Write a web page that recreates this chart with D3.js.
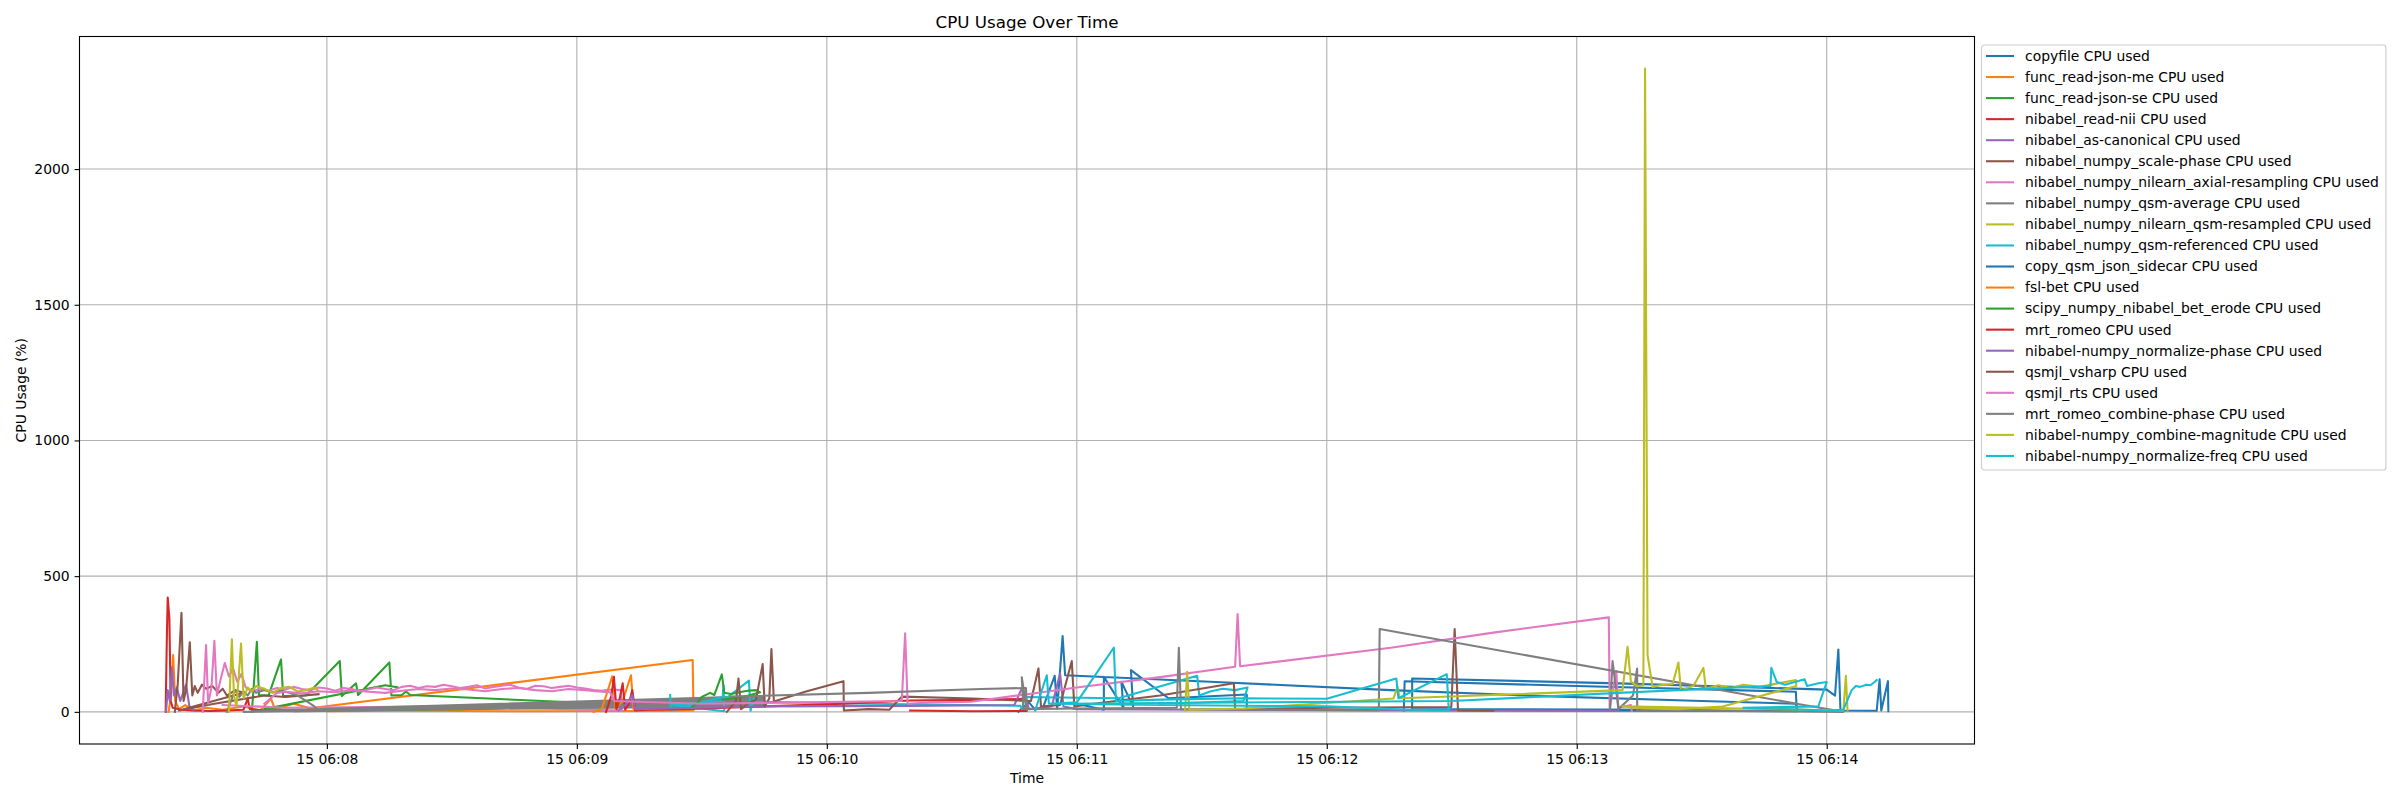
<!DOCTYPE html>
<html>
<head>
<meta charset="utf-8">
<script src="https://cdn.jsdelivr.net/npm/d3@7"></script>
<style>
  body { margin: 0; background: #fff; }
  text { font-family: "DejaVu Sans", sans-serif; fill: #000; }
</style>
</head>
<body>
<div id="chart"></div>
<script>
// time of each sample = seconds after 06:07:00, value = CPU %
var baseTime = new Date(2024, 0, 15, 6, 7, 0);

var seriesNames = [
  "copyfile CPU used",
  "func_read-json-me CPU used",
  "func_read-json-se CPU used",
  "nibabel_read-nii CPU used",
  "nibabel_as-canonical CPU used",
  "nibabel_numpy_scale-phase CPU used",
  "nibabel_numpy_nilearn_axial-resampling CPU used",
  "nibabel_numpy_qsm-average CPU used",
  "nibabel_numpy_nilearn_qsm-resampled CPU used",
  "nibabel_numpy_qsm-referenced CPU used",
  "copy_qsm_json_sidecar CPU used",
  "fsl-bet CPU used",
  "scipy_numpy_nibabel_bet_erode CPU used",
  "mrt_romeo CPU used",
  "nibabel-numpy_normalize-phase CPU used",
  "qsmjl_vsharp CPU used",
  "qsmjl_rts CPU used",
  "mrt_romeo_combine-phase CPU used",
  "nibabel-numpy_combine-magnitude CPU used",
  "nibabel-numpy_normalize-freq CPU used"
];

var colors = ["#1f77b4", "#ff7f0e", "#2ca02c", "#d62728", "#9467bd",
              "#8c564b", "#e377c2", "#7f7f7f", "#bcbd22", "#17becf"];

var yTicks = [0, 500, 1000, 1500, 2000];

var copyfile = [[226,0],[228.5,35],[230,8],[232,20],[234.7,133],[235.3,12],[236.6,279],[237.2,135],
  [276,108],[315.4,80],[352,58],[390,40],[412.6,30],[413,2],[380,4],[330,6],[280.8,8],[280.8,64],
  [262,50],[253,154],[253.5,20],[250.7,111],[251.2,15],[246.5,129],[246.5,8],[240,30]];
var funcReadJsonMe = [[22,0],[22.6,60],[23.1,209],[23.6,40],[24.5,10],[26,25],[28,5],[31,15],[35,8],
  [40,20],[44,5],[46.6,49],[47.5,10],[52,30],[56,13],[147.8,191],[148,5],[140,3],[110,2],[80,4],[60,2]];
var funcReadJsonSe = [[42,0],[43.2,258],[43.7,62],[46,60],[49,193],[49.5,58],[55,60],[63.1,187],[63.6,58],
  [67,105],[67.5,62],[75,182],[75.5,60],[78,62],[79,75],[80,62],[100,48],[130,28],[131,18],[120,15],
  [90,10],[60,5],[45,10],[74,98],[77,90]];
var nibabelReadNii = [[21.3,0],[21.6,280],[21.8,421],[22.2,345],[22.5,40],[23,15],[25,8],[28,5],[32,3],
  [36,5],[40,8],[41,49],[41.5,10],[45,5]];
var nibabelAsCanonical = [[21.4,0],[21.8,80],[22.3,40],[22.8,164],[23.3,60],[24,90],[24.8,40],[25.5,70],
  [26.2,100],[27,20],[28,8]];
var scalePhase = [[23.5,0],[24.2,100],[25.1,365],[25.6,40],[26.2,80],[27.1,256],[27.7,60],[28.3,95],
  [29,70],[30,100],[31,85],[32.5,95],[34,70],[35,85],[36,60],[38,80],[40,70],[24.5,5],[33,30],[45,60],
  [50,55],[58,65]];
var axialResampling = [[30.2,0],[30.6,120],[31,246],[31.5,30],[32.3,90],[33,262],[33.6,60],[34.5,120],
  [35.5,180],[36.5,130],[37.5,160],[38.5,110],[39.5,140],[40.5,90],[42,75],[44,85],[46,78],[48,88],
  [50,82],[52,92],[54,84],[56,80],[58,90],[60,86],[62,78],[64,88],[66,84],[68,76],[70,82],[72,90],
  [74,84],[76,80],[78,92],[80,96],[82,88],[84,94],[86,92],[88,100],[90,94],[92,88],[94,92],[96,98],
  [98,86],[100,92],[102,96],[104,100],[106,90],[108,84],[110,96],[112,94],[114,88],[116,92],[118,96],
  [120,90],[122,86],[124,80],[126,78],[128,82],[130.6,80],[130.8,5],[90,20],[50,15],[35,25]];
var qsmAverage = [[36,0],[37,40],[38,80],[39,55],[40,75],[41,60],[42,85],[43,70],[45,80],[47,72],[49,78],
  [51,70],[53,60],[55,40],[57,20],[58,5],[100,12],[165,20],[165,58],[42,3],[165,52],[45,2],[165,46],
  [50,4],[165,40],[40,0],[165,34],[55,2],[165,28],[44,1],[165,24],[48,3],[160,50],[52,1],[160,42]];
var qsmResampled = [[36.5,0],[37.2,267],[37.7,60],[38.3,20],[38.8,120],[39.4,252],[40,50],[41,90],[42,75],
  [43,95],[45,85],[47,70],[49,88],[51,92],[53,75],[55,80],[57,90],[57.8,80]];
var qsmReferenced = [[142.4,62],[142.6,6],[155,55],[155.2,98],[155.4,2],[142.6,25],[155,40],[161.3,115],
  [161.7,4],[162.5,50],[163.1,37],[190,30],[226.5,22],[227,5],[227.3,55],[250,50],[268.9,133],[269.4,60],
  [272,75],[275,85],[278,80],[281,90],[280,40],[260,30]];
var copyQsmJsonSidecar = [[318.5,5],[318.7,113],[360,95],[412.6,74],[412.8,5],[400,4],[380,8],[320.5,10],
  [320.5,123],[370,105],[420,82],[422,60],[422.8,230],[423.3,5],[432,4],[432.7,120],[433.1,5],[434.7,113],
  [434.8,2]];
var fslBet = [[124,0],[126,10],[128.5,131],[129.3,15],[131,40],[133,135],[133.6,10],[136,5],[140,3]];
var betErode = [[147,10],[149,35],[150,55],[152,70],[153,62],[154.8,138],[155.4,70],[157,66],[159,72],
  [161,78],[163,80],[164,72],[160,55],[155,45]];
var mrtRomeo = [[127,0],[128.3,60],[128.9,129],[129.5,10],[130.3,50],[131,105],[131.6,8],[132.5,30],
  [133.3,80],[134,5],[137,8],[145,10],[165,20],[184,30],[200,42],[215,44],[227.8,48],[228,3],[215,2],[200,5]];
var normalizePhase = [[130,5],[132,30],[133.3,62],[134,10],[150,15],[165,20],[200,22],[225,25],[226.8,86],
  [227.5,70],[228.5,10],[234,20],[236,141],[236.8,20],[240,10],[300,6],[370,4]];
var vsharp = [[156,0],[158.2,40],[158.8,123],[159.4,10],[161,30],[163,45],[164.6,176],[165.1,20],[166.2,50],
  [166.7,231],[167.3,38],[175,75],[184,113],[184.1,5],[190,10],[195,8],[198,56],[215,49],[229,40],
  [230.8,160],[231.4,20],[236,25],[238.8,187],[239.4,20],[245,32],[260,60],[277.7,105],[278,10],[300,15],
  [329.9,18],[330.7,305],[331.5,5],[340,4]];
var rts = [[45,30],[48,70],[50,74],[54,68],[58,76],[62,72],[66,80],[70,74],[74,70],[78,78],[82,84],[86,80],
  [90,86],[94,82],[98,76],[102,84],[106,88],[110,80],[114,76],[118,84],[122,80],[126,74],[128,72],
  [129,40],[150,30],[175,35],[198,40],[198.8,289],[199.4,30],[205,35],[214.6,37],[240,90],[260,128],
  [278,166],[278.6,360],[279.2,168],[315.4,236],[340,292],[367.7,348],[367.9,12],[369.5,150],[370,15],
  [373,25],[373.2,4]];
var romeoCombinePhase = [[157,56],[190,70],[217,84],[227.8,88],[228,8],[226.8,127],[227.2,10],[240,12],
  [264,15],[264.5,236],[265,10],[290,8],[312.5,5],[312.7,305],[413.8,27],[424,0],[400,3],[374.5,5],
  [374.5,160],[373.5,60],[370,10],[368.6,187],[368,5]];
var combineMagnitude = [[266,5],[266.5,148],[267,8],[280,12],[316,49],[317,92],[317.5,50],[340,62],[371,80],
  [372.2,240],[373,111],[374.5,95],[376,98],[376.4,2370],[377,209],[378.2,92],[380,98],[383,102],
  [384.4,182],[385,80],[388,95],[390.4,162],[391,85],[394,98],[397,88],[400,100],[404,92],[408,104],
  [412.6,117],[412.7,95],[395,20],[384.4,10],[376,12],[371,20],[424,5],[424.6,133],[425,5]];
var normalizeFreq = [[230,5],[232.8,135],[233.3,30],[240,35],[248.9,237],[249.4,40],[260,45],[280,50],
  [300,48],[316.7,123],[317.2,50],[328.8,139],[329.3,5],[320,8],[300,20],[260,25],[235,30],[330,40],
  [370,70],[406.5,95],[406.7,162],[408,110],[410,100],[414.7,120],[415.3,95],[418,105],[420,110],
  [418,20],[400,15],[420,5],[424,8],[426,80],[427,95],[428,92],[429.5,100],[430.5,98],[431.5,110],[432,117]];

var allSeries = [copyfile, funcReadJsonMe, funcReadJsonSe, nibabelReadNii, nibabelAsCanonical, scalePhase,
  axialResampling, qsmAverage, qsmResampled, qsmReferenced, copyQsmJsonSidecar, fslBet, betErode, mrtRomeo,
  normalizePhase, vsharp, rts, romeoCombinePhase, combineMagnitude, normalizeFreq];

// figure layout (matplotlib 24x8 in @ 100 dpi)
var W = 2400, H = 800;
var margin = {top: 36.5, right: 425.5, bottom: 56, left: 79.5},
    width = W - margin.left - margin.right,
    height = H - margin.top - margin.bottom;

var svg = d3.select("#chart").append("svg")
  .attr("width", W)
  .attr("height", H);

var chartGroup = svg.append("g")
  .attr("transform", `translate(${margin.left}, ${margin.top})`);

var toDate = s => new Date(baseTime.getTime() + s * 1000);

// domains with matplotlib-like 5% margins
var allPts = allSeries.flat();
var tMin = d3.min(allPts, d => d[0]), tMax = d3.max(allPts, d => d[0]);
var vMin = d3.min(allPts, d => d[1]), vMax = d3.max(allPts, d => d[1]);
var tPad = (tMax - tMin) * 0.05, vPad = (vMax - vMin) * 0.05;

var xScale = d3.scaleTime()
  .domain([toDate(tMin - tPad), toDate(tMax + tPad)])
  .range([0, width]);
var yScale = d3.scaleLinear()
  .domain([vMin - vPad, vMax + vPad])
  .range([height, 0]);

var xTicks = xScale.ticks(d3.timeMinute.every(1));

// grid
chartGroup.append("g").selectAll("line")
  .data(xTicks).enter().append("line")
  .attr("x1", d => xScale(d)).attr("x2", d => xScale(d))
  .attr("y1", 0).attr("y2", height)
  .attr("stroke", "#b0b0b0").attr("stroke-width", 1.1);
chartGroup.append("g").selectAll("line")
  .data(yTicks).enter().append("line")
  .attr("x1", 0).attr("x2", width)
  .attr("y1", d => yScale(d)).attr("y2", d => yScale(d))
  .attr("stroke", "#b0b0b0").attr("stroke-width", 1.1);

// lines
svg.append("clipPath").attr("id", "plotclip")
  .append("rect").attr("width", width).attr("height", height);

var line = d3.line()
  .x(d => xScale(toDate(d[0])))
  .y(d => yScale(d[1]));

chartGroup.append("g").attr("clip-path", "url(#plotclip)")
  .selectAll("path")
  .data(allSeries).enter().append("path")
  .attr("d", line)
  .attr("fill", "none")
  .attr("stroke", (d, i) => colors[i % 10])
  .attr("stroke-width", 2.08)
  .attr("stroke-linejoin", "round")
  .attr("stroke-linecap", "square");

// axes
var bottomAxis = d3.axisBottom(xScale)
  .tickValues(xTicks)
  .tickFormat(d3.timeFormat("%d %H:%M"))
  .tickSize(4.9).tickPadding(4.9);
var leftAxis = d3.axisLeft(yScale)
  .tickValues(yTicks)
  .tickFormat(d3.format("d"))
  .tickSize(4.9).tickPadding(4.9);

var gx = chartGroup.append("g")
  .attr("transform", `translate(0, ${height})`)
  .call(bottomAxis);
var gy = chartGroup.append("g").call(leftAxis);

[gx, gy].forEach(function(g) {
  g.select(".domain").remove();
  g.selectAll(".tick line").attr("stroke", "#000").attr("stroke-width", 1.1);
  g.selectAll(".tick text").style("font-size", "13.9px").attr("fill", "#000");
});

// frame
chartGroup.append("rect")
  .attr("width", width).attr("height", height)
  .attr("fill", "none").attr("stroke", "#000").attr("stroke-width", 1.1);

// titles
svg.append("text")
  .attr("x", margin.left + width / 2).attr("y", 28)
  .attr("text-anchor", "middle")
  .style("font-size", "16.7px")
  .text("CPU Usage Over Time");

svg.append("text")
  .attr("x", margin.left + width / 2).attr("y", 782.5)
  .attr("text-anchor", "middle")
  .style("font-size", "13.9px")
  .text("Time");

svg.append("text")
  .attr("transform", `translate(26, ${margin.top + height / 2}) rotate(-90)`)
  .attr("text-anchor", "middle")
  .style("font-size", "13.9px")
  .text("CPU Usage (%)");

// legend
var legX = margin.left + width + 7, legY = 45, rowH = 21.05;
var legend = svg.append("g").attr("transform", `translate(${legX}, ${legY})`);
var legBox = legend.append("rect")
  .attr("rx", 2.8).attr("ry", 2.8)
  .attr("fill", "#fff").attr("fill-opacity", 0.8)
  .attr("stroke", "#cccccc").attr("stroke-width", 1.1);

var rows = legend.selectAll("g.row")
  .data(seriesNames).enter().append("g")
  .attr("transform", (d, i) => `translate(0, ${11 + i * rowH})`);
rows.append("line")
  .attr("x1", 4.5).attr("x2", 32.5)
  .attr("stroke", (d, i) => colors[i % 10])
  .attr("stroke-width", 2.08);
rows.append("text")
  .attr("x", 43.5).attr("dy", "0.35em")
  .style("font-size", "13.9px")
  .text(d => d);

var maxLen = 0;
rows.selectAll("text").each(function() { maxLen = Math.max(maxLen, this.getComputedTextLength()); });
legBox.attr("width", 43.5 + maxLen + 7)
  .attr("height", 11 + (seriesNames.length - 1) * rowH + 14);
</script>
</body>
</html>
